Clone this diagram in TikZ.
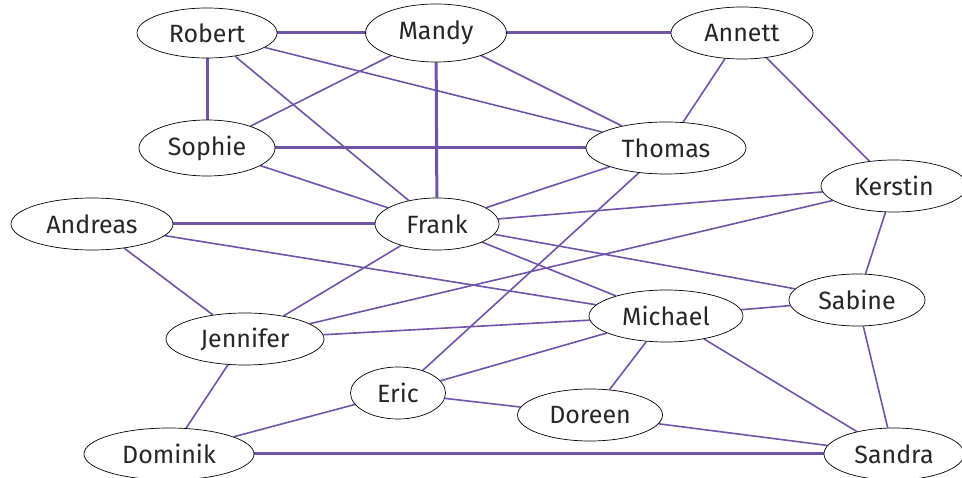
\documentclass[tikz,border=0pt]{standalone}
\usepackage{fontspec}
\setmainfont{Fira Sans}
\usetikzlibrary{shapes.geometric,backgrounds}
\definecolor{edgec}{RGB}{112,82,168}
\tikzset{
  pers/.style={ellipse, draw=black, line width=0.7pt, fill=white, inner sep=0pt,
    minimum height=52pt, font=\fontsize{25}{27}\selectfont, text=black!85},
  thinedge/.style={draw=edgec, line width=1.6pt},
  thickedge/.style={draw=edgec, line width=3pt},
}
\begin{document}
\begin{tikzpicture}[x=1pt,y=-1pt]
\useasboundingbox (0,0) rectangle (962,478);
\node[pers, minimum width=140pt, minimum height=50pt] (robert) at (207,33) {Robert};
\node[pers, minimum width=141pt, minimum height=58pt] (mandy) at (436,33) {Mandy};
\node[pers, minimum width=142pt] (annett) at (742,33) {Annett};
\node[pers, minimum width=136pt, minimum height=56pt] (sophie) at (207,148) {Sophie};
\node[pers, minimum width=160pt] (thomas) at (666,148) {Thomas};
\node[pers, minimum width=146pt] (kerstin) at (894,186) {Kerstin};
\node[pers, minimum width=162pt] (andreas) at (92,224) {Andreas};
\node[pers, minimum width=124pt] (frank) at (437,224) {Frank};
\node[pers, minimum width=136pt] (sabine) at (857,300) {Sabine};
\node[pers, minimum width=154pt] (michael) at (666,316) {Michael};
\node[pers, minimum width=158pt] (jennifer) at (245,339) {Jennifer};
\node[pers, minimum width=95pt] (eric) at (398,393) {Eric};
\node[pers, minimum width=145pt] (doreen) at (590,415) {Doreen};
\node[pers, minimum width=170pt] (dominik) at (169,454) {Dominik};
\node[pers, minimum width=140pt] (sandra) at (894,454) {Sandra};
\begin{scope}[on background layer]
\draw[thickedge] (robert) -- (mandy);
\draw[thickedge] (mandy) -- (annett);
\draw[thickedge] (robert) -- (sophie);
\draw[thickedge] (sophie) -- (thomas);
\draw[thickedge] (mandy) -- (frank);
\draw[thickedge] (andreas) -- (frank);
\draw[thickedge] (dominik) -- (sandra);
\draw[thinedge] (robert) -- (thomas);
\draw[thinedge] (robert) -- (frank);
\draw[thinedge] (mandy) -- (sophie);
\draw[thinedge] (mandy) -- (thomas);
\draw[thinedge] (annett) -- (thomas);
\draw[thinedge] (annett) -- (kerstin);
\draw[thinedge] (sophie) -- (frank);
\draw[thinedge] (thomas) -- (frank);
\draw[thinedge] (thomas) -- (eric);
\draw[thinedge] (kerstin) -- (frank);
\draw[thinedge] (kerstin) -- (jennifer);
\draw[thinedge] (kerstin) -- (sabine);
\draw[thinedge] (andreas) -- (michael);
\draw[thinedge] (andreas) -- (jennifer);
\draw[thinedge] (frank) -- (jennifer);
\draw[thinedge] (frank) -- (michael);
\draw[thinedge] (frank) -- (sabine);
\draw[thinedge] (michael) -- (sabine);
\draw[thinedge] (michael) -- (jennifer);
\draw[thinedge] (michael) -- (eric);
\draw[thinedge] (michael) -- (doreen);
\draw[thinedge] (michael) -- (sandra);
\draw[thinedge] (sabine) -- (sandra);
\draw[thinedge] (jennifer) -- (dominik);
\draw[thinedge] (eric) -- (dominik);
\draw[thinedge] (eric) -- (doreen);
\draw[thinedge] (doreen) -- (sandra);
\end{scope}
\end{tikzpicture}
\end{document}
